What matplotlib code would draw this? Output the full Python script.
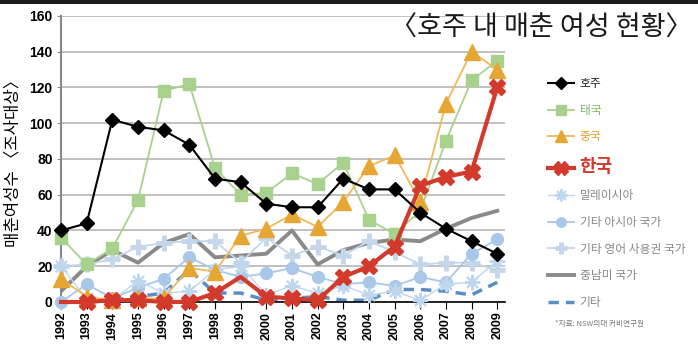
import matplotlib
matplotlib.use("Agg")
import matplotlib.pyplot as plt
from matplotlib.patches import Rectangle

plt.rcParams['font.family'] = ['Noto Sans CJK KR', 'DejaVu Sans']

years = list(range(1992, 2010))
australia = [40, 44, 102, 98, 96, 88, 69, 67, 55, 53, 53, 69, 63, 63, 50, 41, 34, 27]
thailand = [36, 21, 30, 57, 118, 122, 75, 60, 61, 72, 66, 78, 46, 38, 51, 90, 124, 135]
china = [13, 3, 1, 2, 2, 19, 17, 37, 41, 49, 42, 56, 76, 82, 56, 111, 140, 130]
korea = [0, 0, 1, 1, 0, 0, 5, 14, 3, 2, 1, 14, 20, 31, 65, 70, 73, 120]
malaysia = [20, 2, 1, 12, 5, 6, 18, 20, 4, 9, 5, 9, 4, 6, 1, 10, 11, 23]
other_asia = [0, 10, 2, 8, 13, 25, 18, 14, 16, 19, 14, 10, 11, 9, 14, 11, 27, 35]
other_english = [20, 21, 24, 31, 33, 34, 34, 22, 36, 26, 31, 26, 34, 28, 21, 22, 22, 18]
latin_america = [6, 20, 29, 22, 33, 38, 25, 26, 27, 40, 21, 29, 33, 35, 34, 41, 47, 51]
others = [0, 0, 1, 3, 5, 18, 5, 5, 1, 2, 3, 1, 1, 7, 7, 6, 4, 11]

labels = ['호주', '태국', '중국', '한국', '말레이시아', '기타 아시아 국가',
          '기타 영어 사용권 국가', '중남미 국가', '기타']
yticks = [0, 20, 40, 60, 80, 100, 120, 140, 160]

fig = plt.figure(figsize=(6.98, 3.53), dpi=100)
fig.patch.set_facecolor('white')
fig.patches.append(Rectangle((0, 0.988), 1, 0.012, transform=fig.transFigure,
                             facecolor='#1c1c1c', edgecolor='none'))
ax = fig.add_axes([0.0874, 0.1445, 0.636, 0.8102])

h_oth, = ax.plot(years, others, color='#5b8fc4', lw=2.5, ls=(0, (3, 2)), zorder=2)
h_lat, = ax.plot(years, latin_america, color='#8a8a8a', lw=2.8, zorder=2)
h_oeng, = ax.plot(years, other_english, color='#c3d6ea', lw=1.3, marker='+', ms=11, mew=3.5,
                  zorder=3, clip_on=False)
h_oasia, = ax.plot(years, other_asia, color='#a9c7e8', lw=1.3, marker='o', ms=8.5,
                   mec='#a9c7e8', zorder=3, clip_on=False)
h_mal, = ax.plot(years, malaysia, color='#bfd7ee', lw=1.0, marker=(8, 2, 0), ms=11, mew=1.5,
                 zorder=3, clip_on=False)
h_thai, = ax.plot(years, thailand, color='#a9d18e', lw=1.3, marker='s', ms=8.5, mec='#a9d18e',
                  zorder=4, clip_on=False)
h_china, = ax.plot(years, china, color='#efb85a', lw=1.3, marker='^', ms=11, mfc='#e6a633',
                   mec='#e6a633', zorder=4, clip_on=False)
h_aus, = ax.plot(years, australia, color='black', lw=1.5, marker='D', ms=7.5, zorder=6,
                 clip_on=False)
keep = [i for i in range(len(years)) if i not in (0, 7)]
h_kor, = ax.plot(years, korea, color='#d23a2b', lw=3, marker='X', ms=12, mec='#d23a2b',
                 markevery=keep, zorder=5, clip_on=False)

order = [h_aus, h_thai, h_china, h_kor, h_mal, h_oasia, h_oeng, h_lat, h_oth]

ax.set_xlim(1992, 2009.3)
ax.set_ylim(0, 160)
ax.set_yticks(yticks)
ax.set_xticks(years)
ax.set_xticklabels([str(y) for y in years], rotation=90, fontweight='bold',
                   fontsize=9, family='Liberation Sans')
ax.set_yticklabels([str(v) for v in yticks], fontweight='bold', fontsize=10,
                   family='Liberation Sans')
ax.grid(axis='y', color='#b5b5b5', lw=1.2)
ax.set_axisbelow(True)
for s in ['top', 'right']:
    ax.spines[s].set_visible(False)
ax.spines['left'].set_color('#888888')
ax.spines['left'].set_linewidth(1.5)
ax.spines['bottom'].set_color('black')
ax.spines['bottom'].set_linewidth(1.2)
ax.tick_params(axis='x', direction='out', length=5, color='black', pad=2)
ax.tick_params(axis='y', direction='out', length=3, color='#888888', pad=3)

ax.set_ylabel('매춘여성수 〈조사대상〉', fontsize=12, labelpad=6)

fig.text(0.993, 0.92, '〈호주 내 매춘 여성 현황〉', ha='right', va='center',
         fontsize=19.5, fontweight='medium', color='#1a1a1a')

leg = fig.legend(order, labels, loc='upper left', bbox_to_anchor=(0.778, 0.795),
                 frameon=False, fontsize=8.5, labelspacing=1.15, handlelength=2.2,
                 handletextpad=0.5, borderaxespad=0, markerscale=0.8)
txt_colors = ['#222222', '#7cb865', '#e3a12f', '#d23a2b', '#888888', '#888888',
              '#888888', '#888888', '#888888']
for t, c in zip(leg.get_texts(), txt_colors):
    t.set_color(c)
leg.get_texts()[3].set_fontsize(13)
leg.get_texts()[3].set_fontweight('bold')

fig.text(0.795, 0.083, '*자료: NSW의대 커비연구원', fontsize=5.5, color='#777777',
         ha='left', va='center')

fig.savefig('out.png', dpi=100, facecolor='white')
